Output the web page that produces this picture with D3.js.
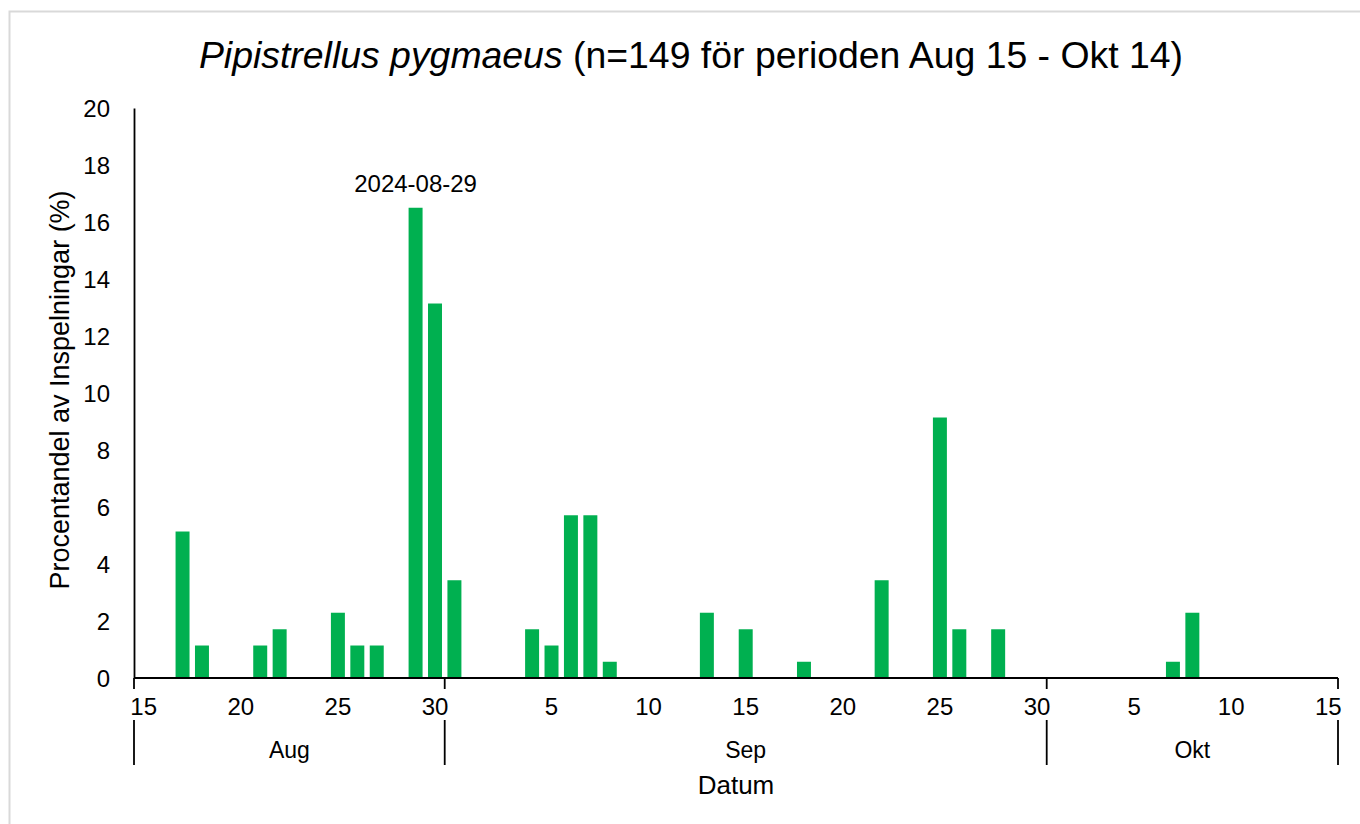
<!DOCTYPE html>
<html>
<head>
<meta charset="utf-8">
<script src="https://cdn.jsdelivr.net/npm/d3@7"></script>
<style>
  body { margin: 0; background: #fff; }
  svg text { font-family: "Liberation Sans", Arial, sans-serif; fill: #000; }
</style>
</head>
<body>
<svg></svg>
<script>
const width = 1360;
const height = 824;

// days with recordings (percent of recordings)
const barDates = ["2024-08-17","2024-08-18","2024-08-21","2024-08-22","2024-08-25","2024-08-26","2024-08-27",
  "2024-08-29","2024-08-30","2024-08-31","2024-09-04","2024-09-05","2024-09-06","2024-09-07","2024-09-08",
  "2024-09-13","2024-09-15","2024-09-18","2024-09-22","2024-09-25","2024-09-26","2024-09-28",
  "2024-10-07","2024-10-08"];
const barValues = [5.14, 1.14, 1.14, 1.71, 2.29, 1.14, 1.14,
  16.5, 13.14, 3.43, 1.71, 1.14, 5.71, 5.71, 0.57,
  2.29, 1.71, 0.57, 3.43, 9.14, 1.71, 1.71,
  0.57, 2.29];

const xTickLabels = ["2024-08-15","2024-08-20","2024-08-25","2024-08-30","2024-09-05","2024-09-10",
  "2024-09-15","2024-09-20","2024-09-25","2024-09-30","2024-10-05","2024-10-10","2024-10-15"];
const monthLabels = ["Aug","Sep","Okt"];
const monthSpans = [16, 31, 15];   // days under each month label
const yTicks = [0,2,4,6,8,10,12,14,16,18,20];
const peakLabel = "2024-08-29";

const fmt = d3.timeFormat("%Y-%m-%d");
const parse = d3.timeParse("%Y-%m-%d");
const days = d3.timeDay.range(parse("2024-08-15"), parse("2024-10-16")).map(fmt);
const valueByDay = {};
barDates.forEach((d,i)=>{ valueByDay[d] = barValues[i]; });

const plotLeft = 134, plotRight = 1338, plotTop = 108, plotBottom = 678;

var svg = d3.select("svg").attr("width", width).attr("height", height);

// outer chart border
svg.append("rect")
  .attr("x", 9.5).attr("y", 11.5)
  .attr("width", width + 20).attr("height", height + 20)
  .attr("fill", "none").attr("stroke", "#d9d9d9").attr("stroke-width", 2);

var xScale = d3.scaleBand().domain(days).range([plotLeft, plotRight])
  .paddingInner(0.28).paddingOuter(0.14);
var yScale = d3.scaleLinear().domain([0, 20]).range([plotBottom, plotTop]);

// title
var title = svg.append("text")
  .attr("x", 691).attr("y", 68)
  .attr("text-anchor", "middle")
  .style("font-size", "37.4px");
title.append("tspan").style("font-style", "italic").text("Pipistrellus pygmaeus");
title.append("tspan").text(" (n=149 för perioden Aug 15 - Okt 14)");

// bars
svg.selectAll("rect.bar")
  .data(days.filter(d => valueByDay[d] != null))
  .enter()
  .append("rect")
  .attr("class", "bar")
  .attr("x", d => xScale(d))
  .attr("width", xScale.bandwidth())
  .attr("y", d => yScale(valueByDay[d]))
  .attr("height", d => yScale(0) - yScale(valueByDay[d]))
  .attr("fill", "#00b050");

// peak label
svg.append("text")
  .attr("x", xScale(peakLabel) + xScale.bandwidth()/2)
  .attr("y", yScale(valueByDay[peakLabel]) - 16)
  .attr("text-anchor", "middle")
  .style("font-size", "24px")
  .text(peakLabel);

// y axis
var yAxis = d3.axisLeft(yScale).tickValues(yTicks).tickSize(0).tickPadding(24);
var gy = svg.append("g").attr("transform", `translate(${plotLeft},0)`).call(yAxis);
gy.select(".domain").attr("stroke", "#000").attr("stroke-width", 1.8);
gy.selectAll("text").style("font-size", "24px")
  .style("font-family", "'Liberation Sans', Arial, sans-serif").attr("dy", "0.35em");

// x axis line
svg.append("line")
  .attr("x1", plotLeft).attr("x2", plotRight)
  .attr("y1", plotBottom).attr("y2", plotBottom)
  .attr("stroke", "#000").attr("stroke-width", 1.8);

// day labels
svg.selectAll("text.day")
  .data(xTickLabels)
  .enter()
  .append("text")
  .attr("class", "day")
  .attr("x", d => xScale(d) + xScale.bandwidth()/2)
  .attr("y", 715)
  .attr("text-anchor", "middle")
  .style("font-size", "24px")
  .text(d => +d.slice(8));

// month groups
var bounds = [0];
monthSpans.forEach(s => bounds.push(bounds[bounds.length-1] + s));
var step = xScale.step();
var boundX = bounds.map(b => plotLeft + b*step);

svg.selectAll("line.sep")
  .data(boundX)
  .enter()
  .append("line")
  .attr("x1", d => d).attr("x2", d => d)
  .attr("y1", plotBottom).attr("y2", plotBottom + 11)
  .attr("stroke", "#000").attr("stroke-width", 1.8);
svg.selectAll("line.sep2")
  .data(boundX)
  .enter()
  .append("line")
  .attr("x1", d => d).attr("x2", d => d)
  .attr("y1", 720).attr("y2", 765)
  .attr("stroke", "#000").attr("stroke-width", 1.8);

svg.selectAll("text.month")
  .data(monthLabels)
  .enter()
  .append("text")
  .attr("class", "month")
  .attr("x", (d,i) => (boundX[i] + boundX[i+1]) / 2)
  .attr("y", 758)
  .attr("text-anchor", "middle")
  .style("font-size", "23px")
  .text(d => d);

// axis titles
svg.append("text")
  .attr("x", 736).attr("y", 794)
  .attr("text-anchor", "middle")
  .style("font-size", "26px")
  .text("Datum");

svg.append("text")
  .attr("transform", `translate(69,${(plotTop+plotBottom)/2 - 3}) rotate(-90)`)
  .attr("text-anchor", "middle")
  .style("font-size", "27px")
  .text("Procentandel av Inspelningar (%)");
</script>
</body>
</html>
